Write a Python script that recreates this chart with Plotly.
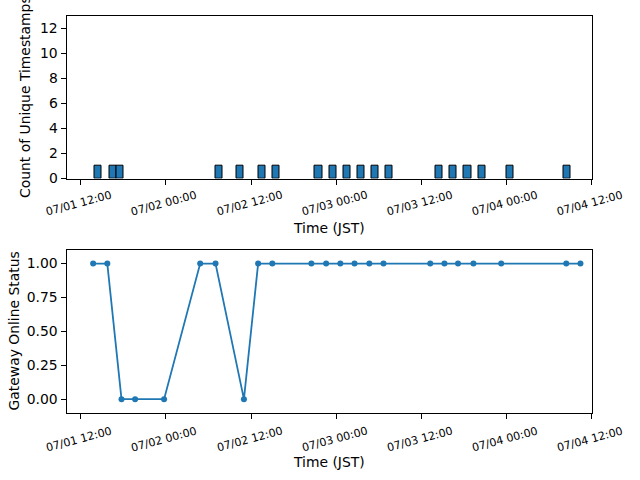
import plotly.graph_objects as go

# ---- data ----
hist_bins = ["2024-07-01 14:00", "2024-07-01 16:00", "2024-07-01 17:00",
             "2024-07-02 07:00", "2024-07-02 10:00", "2024-07-02 13:00", "2024-07-02 15:00",
             "2024-07-02 21:00", "2024-07-02 23:00", "2024-07-03 01:00", "2024-07-03 03:00",
             "2024-07-03 05:00", "2024-07-03 07:00", "2024-07-03 14:00", "2024-07-03 16:00",
             "2024-07-03 18:00", "2024-07-03 20:00", "2024-07-04 00:00", "2024-07-04 08:00"]
hist_counts = [1] * len(hist_bins)

status_times = ["2024-07-01 13:45", "2024-07-01 15:45", "2024-07-01 17:45", "2024-07-01 19:40",
                "2024-07-01 23:45", "2024-07-02 04:50", "2024-07-02 07:00", "2024-07-02 11:00",
                "2024-07-02 13:00", "2024-07-02 15:00", "2024-07-02 20:30", "2024-07-02 22:35",
                "2024-07-03 00:35", "2024-07-03 02:35", "2024-07-03 04:40", "2024-07-03 06:40",
                "2024-07-03 13:15", "2024-07-03 15:15", "2024-07-03 17:10", "2024-07-03 19:20",
                "2024-07-03 23:15", "2024-07-04 08:25", "2024-07-04 10:25"]
status_values = [1, 1, 0, 0, 0, 1, 1, 0, 1, 1, 1, 1, 1, 1, 1, 1, 1, 1, 1, 1, 1, 1, 1]

tick_vals = ["2024-07-01 12:00", "2024-07-02 00:00", "2024-07-02 12:00", "2024-07-03 00:00",
             "2024-07-03 12:00", "2024-07-04 00:00", "2024-07-04 12:00"]
tick_text = ["07/01 12:00", "07/02 00:00", "07/02 12:00", "07/03 00:00",
             "07/03 12:00", "07/04 00:00", "07/04 12:00"]
x_range = ["2024-07-01 10:00", "2024-07-04 12:00"]

BLUE = "#1f77b4"
FONT = "DejaVu Sans"

fig = go.Figure()
fig.add_trace(go.Bar(x=hist_bins, y=hist_counts, width=3600000, offset=0,
                     marker=dict(color=BLUE, line=dict(color="black", width=1)),
                     xaxis="x", yaxis="y", showlegend=False))
fig.add_trace(go.Scatter(x=status_times, y=status_values, mode="lines+markers",
                         line=dict(color=BLUE, width=1.8), marker=dict(color=BLUE, size=6),
                         xaxis="x2", yaxis="y2", showlegend=False))

xdom = [66.5 / 640, 591.7 / 640]
ax_common = dict(showline=True, mirror=True, linecolor="black", linewidth=1,
                 showgrid=False, zeroline=False, ticks="outside", ticklen=5,
                 automargin=False,
                 tickcolor="black", tickfont=dict(family=FONT, size=13.9, color="black"))

fig.update_layout(
    template="none",
    width=640, height=480, margin=dict(l=0, r=0, t=0, b=0, pad=0),
    plot_bgcolor="white", paper_bgcolor="white", bargap=0,
    xaxis=dict(domain=xdom, anchor="y", type="date", range=x_range,
               tickvals=tick_vals, showticklabels=False, **ax_common),
    yaxis=dict(domain=[(480 - 178.5) / 480, (480 - 15.7) / 480], anchor="x",
               range=[0, 13], tickvals=[0, 2, 4, 6, 8, 10, 12], **ax_common),
    xaxis2=dict(domain=xdom, anchor="y2", type="date", range=x_range,
                tickvals=tick_vals, showticklabels=False, **ax_common),
    yaxis2=dict(domain=[(480 - 412.7) / 480, (480 - 250) / 480], anchor="x2",
                range=[-0.1, 1.1], tickvals=[0, 0.25, 0.5, 0.75, 1.0],
                tickformat=".2f", **ax_common),
)

annotations = []
for xref, ypx in (("x", 203.5), ("x2", 439.0)):
    for tv, tt in zip(tick_vals, tick_text):
        annotations.append(dict(x=tv, xref=xref, y=(480 - ypx) / 480, yref="paper",
                                text=tt, textangle=-15, showarrow=False, xshift=-2,
                                xanchor="center", yanchor="middle",
                                font=dict(family=FONT, size=11.1, color="black")))

for ypx in (227.5, 462.0):
    annotations.append(dict(x=(xdom[0] + xdom[1]) / 2, xref="paper", y=(480 - ypx) / 480,
                            yref="paper", text="Time (JST)", showarrow=False,
                            xanchor="center", yanchor="middle",
                            font=dict(family=FONT, size=13.9, color="black")))

annotations.append(dict(x=25 / 640, xref="paper", y=(480 - 97) / 480, yref="paper",
                        text="Count of Unique Timestamps", textangle=-90, showarrow=False,
                        xanchor="center", yanchor="middle",
                        font=dict(family=FONT, size=13.9, color="black")))
annotations.append(dict(x=13.5 / 640, xref="paper", y=(480 - 331) / 480, yref="paper",
                        text="Gateway Online Status", textangle=-90, showarrow=False,
                        xanchor="center", yanchor="middle",
                        font=dict(family=FONT, size=13.9, color="black")))

fig.update_layout(annotations=annotations)
fig.write_html("out.html")
